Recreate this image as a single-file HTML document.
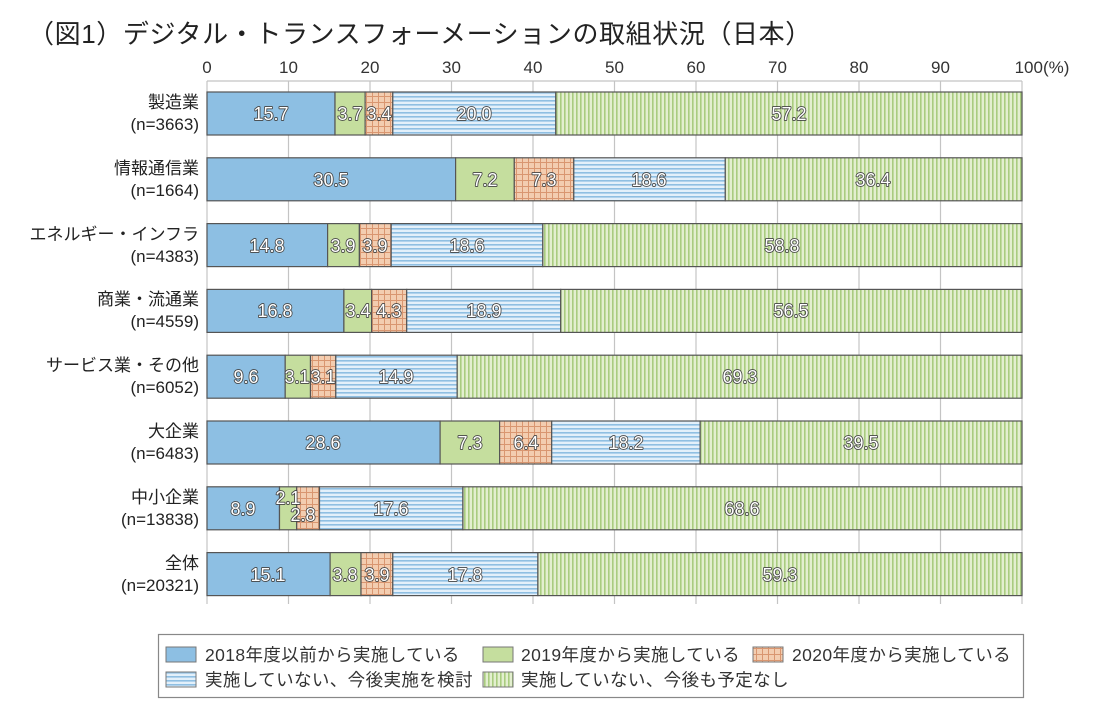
<!DOCTYPE html>
<html><head><meta charset="utf-8"><style>
html,body{margin:0;padding:0;background:#fff;}
svg{display:block;font-family:"Liberation Sans","Noto Sans CJK JP",sans-serif;}
.v{font-size:18px;fill:#fff;stroke:#444;stroke-width:1.7px;paint-order:stroke;stroke-linejoin:round;text-anchor:middle;}
.c{font-size:17px;fill:#222;text-anchor:end;}
.t{font-size:17px;fill:#333;text-anchor:middle;}
.l{font-size:17.5px;fill:#333;letter-spacing:0.4px;}
</style></head><body>
<svg width="1094" height="708" viewBox="0 0 1094 708" xmlns="http://www.w3.org/2000/svg">
<defs>
<pattern id="po" width="6" height="6" patternUnits="userSpaceOnUse"><rect width="6" height="6" fill="#f3cdb0"/><path d="M0 0.5H6M0.5 0V6" stroke="#d99670" stroke-width="1"/></pattern>
<pattern id="pb" width="4" height="4" patternUnits="userSpaceOnUse"><rect width="4" height="4" fill="#e3f0fa"/><rect y="0" width="4" height="1.6" fill="#8fbfe2"/></pattern>
<pattern id="pg" width="4" height="4" patternUnits="userSpaceOnUse"><rect width="4" height="4" fill="#e3efcf"/><rect x="0" width="1.6" height="4" fill="#a9cc7f"/></pattern>
</defs>
<text x="28" y="43" style="font-size:26px;fill:#222;letter-spacing:0.6px">（図1）デジタル・トランスフォーメーションの取組状況（日本）</text>
<g class="t">
<text x="207" y="73">0</text><text x="288.5" y="73">10</text><text x="370" y="73">20</text><text x="451.5" y="73">30</text><text x="533" y="73">40</text><text x="614.5" y="73">50</text><text x="696" y="73">60</text><text x="777.5" y="73">70</text><text x="859" y="73">80</text><text x="940.5" y="73">90</text><text x="1042" y="73">100(%)</text>
</g>
<g stroke="#c4c4c4" stroke-width="1.2">
<line x1="288.5" y1="81" x2="288.5" y2="604"/><line x1="370" y1="81" x2="370" y2="604"/><line x1="451.5" y1="81" x2="451.5" y2="604"/><line x1="533" y1="81" x2="533" y2="604"/><line x1="614.5" y1="81" x2="614.5" y2="604"/><line x1="696" y1="81" x2="696" y2="604"/><line x1="777.5" y1="81" x2="777.5" y2="604"/><line x1="859" y1="81" x2="859" y2="604"/><line x1="940.5" y1="81" x2="940.5" y2="604"/><line x1="1022" y1="81" x2="1022" y2="604"/>
<line x1="207" y1="81" x2="1022" y2="81"/><line x1="207" y1="81" x2="207" y2="604"/>
</g>
<g stroke="#555" stroke-width="1.2">
<rect x="207" y="92" width="128" height="43" fill="#8dbfe3"/><rect x="335" y="92" width="30.1" height="43" fill="#c5de9e"/><rect x="365.1" y="92" width="27.7" height="43" fill="url(#po)"/><rect x="392.8" y="92" width="163" height="43" fill="url(#pb)"/><rect x="555.8" y="92" width="466.2" height="43" fill="url(#pg)"/>
<rect x="207" y="157.8" width="248.6" height="43" fill="#8dbfe3"/><rect x="455.6" y="157.8" width="58.7" height="43" fill="#c5de9e"/><rect x="514.3" y="157.8" width="59.5" height="43" fill="url(#po)"/><rect x="573.8" y="157.8" width="151.5" height="43" fill="url(#pb)"/><rect x="725.3" y="157.8" width="296.7" height="43" fill="url(#pg)"/>
<rect x="207" y="223.6" width="120.6" height="43" fill="#8dbfe3"/><rect x="327.6" y="223.6" width="31.8" height="43" fill="#c5de9e"/><rect x="359.4" y="223.6" width="31.8" height="43" fill="url(#po)"/><rect x="391.2" y="223.6" width="151.6" height="43" fill="url(#pb)"/><rect x="542.8" y="223.6" width="479.2" height="43" fill="url(#pg)"/>
<rect x="207" y="289.4" width="136.9" height="43" fill="#8dbfe3"/><rect x="343.9" y="289.4" width="27.7" height="43" fill="#c5de9e"/><rect x="371.6" y="289.4" width="35.1" height="43" fill="url(#po)"/><rect x="406.7" y="289.4" width="154" height="43" fill="url(#pb)"/><rect x="560.7" y="289.4" width="461.3" height="43" fill="url(#pg)"/>
<rect x="207" y="355.2" width="78.2" height="43" fill="#8dbfe3"/><rect x="285.2" y="355.2" width="25.3" height="43" fill="#c5de9e"/><rect x="310.5" y="355.2" width="25.3" height="43" fill="url(#po)"/><rect x="335.8" y="355.2" width="121.4" height="43" fill="url(#pb)"/><rect x="457.2" y="355.2" width="564.8" height="43" fill="url(#pg)"/>
<rect x="207" y="421" width="233.1" height="43" fill="#8dbfe3"/><rect x="440.1" y="421" width="59.5" height="43" fill="#c5de9e"/><rect x="499.6" y="421" width="52.1" height="43" fill="url(#po)"/><rect x="551.7" y="421" width="148.4" height="43" fill="url(#pb)"/><rect x="700.1" y="421" width="321.9" height="43" fill="url(#pg)"/>
<rect x="207" y="486.8" width="72.5" height="43" fill="#8dbfe3"/><rect x="279.5" y="486.8" width="17.2" height="43" fill="#c5de9e"/><rect x="296.7" y="486.8" width="22.8" height="43" fill="url(#po)"/><rect x="319.5" y="486.8" width="143.4" height="43" fill="url(#pb)"/><rect x="462.9" y="486.8" width="559.1" height="43" fill="url(#pg)"/>
<rect x="207" y="552.6" width="123.1" height="43" fill="#8dbfe3"/><rect x="330.1" y="552.6" width="30.9" height="43" fill="#c5de9e"/><rect x="361" y="552.6" width="31.8" height="43" fill="url(#po)"/><rect x="392.8" y="552.6" width="145.1" height="43" fill="url(#pb)"/><rect x="537.9" y="552.6" width="484.1" height="43" fill="url(#pg)"/>
</g>
<g class="v">
<text x="271" y="120">15.7</text><text x="350" y="120">3.7</text><text x="379" y="120">3.4</text><text x="474" y="120">20.0</text><text x="789" y="120">57.2</text>
<text x="331" y="186">30.5</text><text x="485" y="186">7.2</text><text x="544" y="186">7.3</text><text x="649" y="186">18.6</text><text x="873" y="186">36.4</text>
<text x="267" y="252">14.8</text><text x="343" y="252">3.9</text><text x="375" y="252">3.9</text><text x="467" y="252">18.6</text><text x="782" y="252">58.8</text>
<text x="275" y="317">16.8</text><text x="358" y="317">3.4</text><text x="389" y="317">4.3</text><text x="484" y="317">18.9</text><text x="791" y="317">56.5</text>
<text x="246" y="383">9.6</text><text x="297" y="383">3.1</text><text x="323" y="383">3.1</text><text x="396" y="383">14.9</text><text x="740" y="383">69.3</text>
<text x="323" y="449">28.6</text><text x="470" y="449">7.3</text><text x="526" y="449">6.4</text><text x="626" y="449">18.2</text><text x="861" y="449">39.5</text>
<text x="243" y="515">8.9</text><text x="288" y="504">2.1</text><text x="303" y="521">2.8</text><text x="391" y="515">17.6</text><text x="742" y="515">68.6</text>
<text x="268" y="581">15.1</text><text x="345" y="581">3.8</text><text x="377" y="581">3.9</text><text x="465" y="581">17.8</text><text x="780" y="581">59.3</text>
</g>
<g class="c">
<text x="199" y="108">製造業</text><text x="199" y="130">(n=3663)</text>
<text x="199" y="174">情報通信業</text><text x="199" y="196">(n=1664)</text>
<text x="199" y="240">エネルギー・インフラ</text><text x="199" y="262">(n=4383)</text>
<text x="199" y="305">商業・流通業</text><text x="199" y="327">(n=4559)</text>
<text x="199" y="371">サービス業・その他</text><text x="199" y="393">(n=6052)</text>
<text x="199" y="437">大企業</text><text x="199" y="459">(n=6483)</text>
<text x="199" y="503">中小企業</text><text x="199" y="525">(n=13838)</text>
<text x="199" y="569">全体</text><text x="199" y="591">(n=20321)</text>
</g>
<rect x="158.5" y="634.5" width="865" height="63" fill="#fff" stroke="#888" stroke-width="1.2"/>
<g stroke="#777" stroke-width="1">
<rect x="166" y="647" width="30" height="15" fill="#8dbfe3"/>
<rect x="166" y="672" width="30" height="15" fill="url(#pb)"/>
<rect x="483" y="647" width="30" height="15" fill="#c5de9e"/>
<rect x="483" y="672" width="30" height="15" fill="url(#pg)"/>
<rect x="753" y="647" width="30" height="15" fill="url(#po)"/>
</g>
<g class="l">
<text x="205" y="661">2018年度以前から実施している</text>
<text x="205" y="686">実施していない、今後実施を検討</text>
<text x="521" y="661">2019年度から実施している</text>
<text x="521" y="686">実施していない、今後も予定なし</text>
<text x="792" y="661">2020年度から実施している</text>
</g>
</svg>
</body></html>
